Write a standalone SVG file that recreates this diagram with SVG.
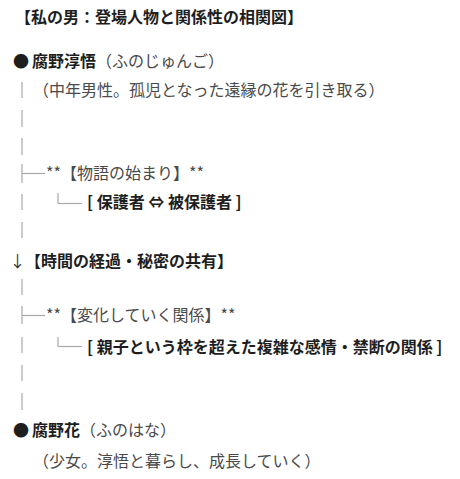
<svg xmlns="http://www.w3.org/2000/svg" width="460" height="479" viewBox="0 0 460 479">
<style>
text{font-family:"Noto Sans CJK JP","Noto Sans",sans-serif;font-size:16px}
.b{font-weight:bold;fill:#1e1e1e}
.n{font-weight:normal;fill:#4a4a4a}
.arr{font-weight:normal;fill:#333333}
.con line{stroke:#a8a8a8;stroke-width:1.2}
</style>
<rect width="460" height="479" fill="#ffffff"/>
<g id="title"><text class="b" x="15" y="23">【私の男：登場人物と関係性の相関図】</text></g>
<g id="connectors" class="con">
<line x1="22" y1="82" x2="22" y2="98"/>
<line x1="22" y1="110" x2="22" y2="127"/>
<line x1="22" y1="138" x2="22" y2="155"/>
<line x1="22" y1="164" x2="22" y2="183"/>
<line x1="22" y1="173.5" x2="45" y2="173.5"/>
<line x1="22" y1="194" x2="22" y2="210"/>
<line x1="58" y1="193" x2="58" y2="203.5"/>
<line x1="58" y1="203.5" x2="82" y2="203.5"/>
<line x1="22" y1="222" x2="22" y2="238"/>
<line x1="22" y1="279" x2="22" y2="295"/>
<line x1="22" y1="306" x2="22" y2="324"/>
<line x1="22" y1="315.5" x2="45" y2="315.5"/>
<line x1="22" y1="337" x2="22" y2="353"/>
<line x1="58" y1="337" x2="58" y2="346.5"/>
<line x1="58" y1="346.5" x2="82" y2="346.5"/>
<line x1="22" y1="365" x2="22" y2="381"/>
<line x1="22" y1="393" x2="22" y2="410"/>
<text x="17.5" y="267" text-anchor="middle" class="arr">↓</text>
</g>
<g id="node-jungo">
<text x="13" y="67" class="b">●</text>
<text x="32" y="67"><tspan class="b">腐野淳悟</tspan><tspan class="n">（ふのじゅんご）</tspan></text>
<text x="33" y="96" class="n">（中年男性。孤児となった遠縁の花を引き取る）</text>
</g>
<g id="node-start">
<text x="46" y="179" class="n">**【物語の始まり】**</text>
</g>
<g id="node-guardian">
<text x="87" y="208" class="b">[ 保護者 ⇔ 被保護者 ]</text>
</g>
<g id="node-time">
<text x="25" y="267" class="b">【時間の経過・秘密の共有】</text>
</g>
<g id="node-change">
<text x="46" y="321" class="n">**【変化していく関係】**</text>
</g>
<g id="node-forbidden">
<text x="87" y="353" class="b">[ 親子という枠を超えた複雑な感情・禁断の関係 ]</text>
</g>
<g id="node-hana">
<text x="13" y="436" class="b">●</text>
<text x="32" y="436"><tspan class="b">腐野花</tspan><tspan class="n">（ふのはな）</tspan></text>
<text x="33" y="467" class="n">（少女。淳悟と暮らし、成長していく）</text>
</g>
</svg>
